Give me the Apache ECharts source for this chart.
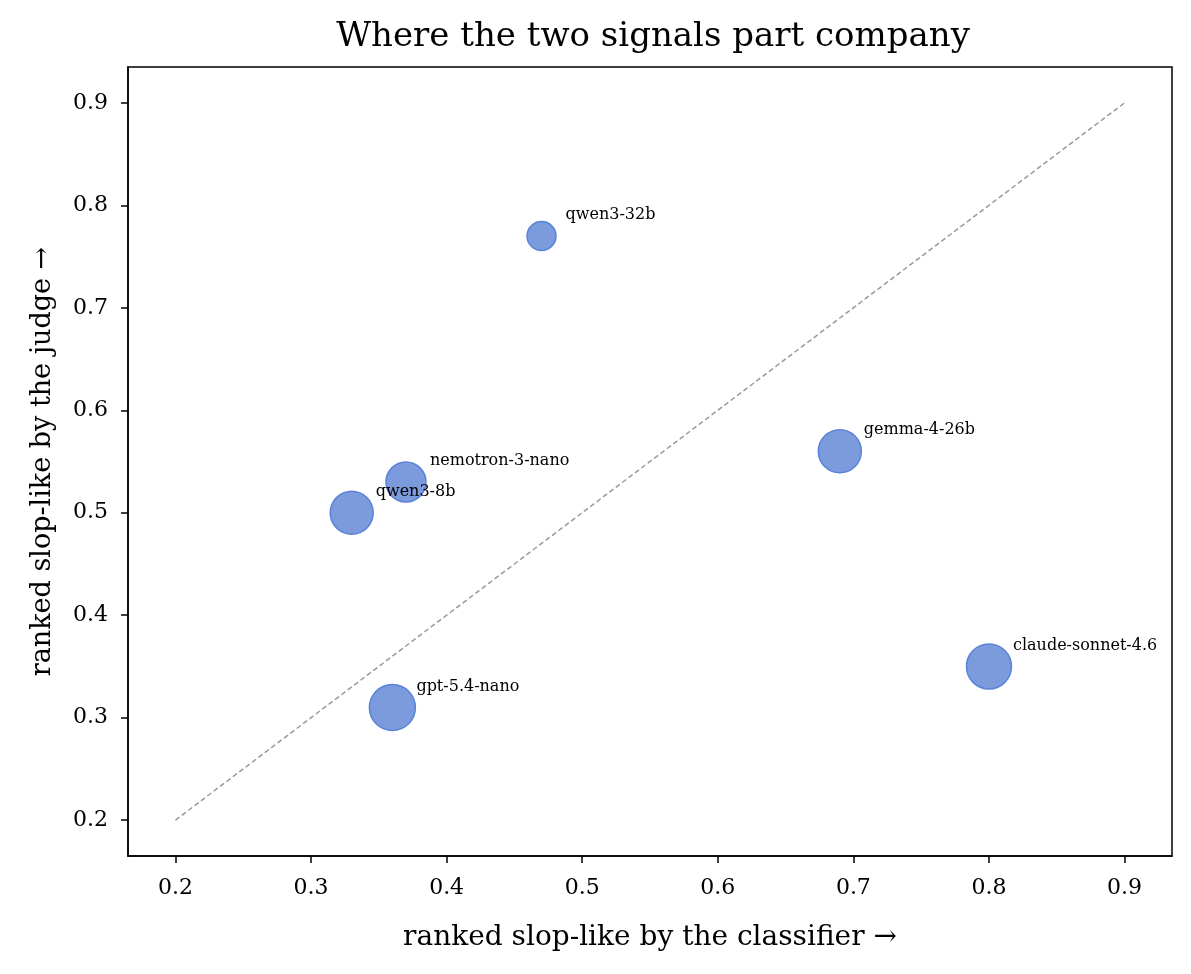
<!DOCTYPE html>
<html>
<head>
<meta charset="utf-8">
<script src="https://cdn.jsdelivr.net/npm/echarts@6/dist/echarts.min.js"></script>
<style>
html,body{margin:0;padding:0;background:#fff;}
#chart{width:1191px;height:974px;}
</style>
</head>
<body>
<div id="chart"></div>
<script>
const models = ['qwen3-32b','nemotron-3-nano','qwen3-8b','gemma-4-26b','claude-sonnet-4.6','gpt-5.4-nano'];
const classifierRank = [0.47, 0.37, 0.33, 0.69, 0.80, 0.36];
const judgeRank = [0.77, 0.53, 0.50, 0.56, 0.35, 0.31];
const markerSize = [29, 40, 43, 43, 45, 46];
const tickValues = [0.2, 0.3, 0.4, 0.5, 0.6, 0.7, 0.8, 0.9];
const diagonal = [[0.2, 0.2], [0.9, 0.9]];

const FONT = 'DejaVu Serif';
const chart = echarts.init(document.getElementById('chart'), null, {renderer: 'canvas'});

const points = models.map((m, i) => ({
  name: m,
  value: [classifierRank[i], judgeRank[i]],
  symbolSize: markerSize[i]
}));

chart.setOption({
  backgroundColor: '#fff',
  animation: false,
  title: {
    text: 'Where the two signals part company',
    left: 648, top: 15, textAlign: 'center',
    textStyle: {fontFamily: FONT, fontSize: 34, fontWeight: 'normal', color: '#000'}
  },
  grid: {
    left: 128, top: 67, right: 19, bottom: 118,
    show: true, borderColor: '#000', borderWidth: 1.5, backgroundColor: 'transparent'
  },
  xAxis: {
    type: 'value', min: 0.165, max: 0.935, interval: 0.1,
    name: 'ranked slop-like by the classifier \u2192',
    nameLocation: 'middle', nameGap: 68,
    nameTextStyle: {fontFamily: FONT, fontSize: 28, color: '#000'},
    axisLine: {show: true, lineStyle: {color: '#000', width: 1.5}},
    axisTick: {show: true, length: 7, lineStyle: {color: '#000', width: 1.5},
      customValues: tickValues},
    axisLabel: {fontFamily: FONT, fontSize: 22, color: '#000', margin: 21,
      customValues: tickValues, formatter: v => v.toFixed(1)},
    splitLine: {show: false}
  },
  yAxis: {
    type: 'value', min: 0.165, max: 0.935, interval: 0.1,
    name: 'ranked slop-like by the judge \u2192',
    nameLocation: 'middle', nameGap: 72,
    nameTextStyle: {fontFamily: FONT, fontSize: 27, color: '#000'},
    axisLine: {show: true, lineStyle: {color: '#000', width: 1.5}},
    axisTick: {show: true, length: 7, lineStyle: {color: '#000', width: 1.5},
      customValues: tickValues},
    axisLabel: {fontFamily: FONT, fontSize: 22, color: '#000', margin: 20,
      customValues: tickValues, formatter: v => v.toFixed(1)},
    splitLine: {show: false}
  },
  series: [
    {
      type: 'line',
      data: diagonal,
      symbol: 'none',
      lineStyle: {color: '#999', width: 1.5, type: [5, 3]},
      silent: true,
      z: 1
    },
    {
      type: 'scatter',
      data: points,
      itemStyle: {color: '#7b9bdd', borderColor: '#5a82d8', borderWidth: 1.5, opacity: 1},
      label: {
        show: true,
        formatter: p => p.name,
        position: 'inside',
        align: 'left',
        verticalAlign: 'middle',
        offset: [24, -21],
        fontFamily: FONT, fontSize: 16, color: '#000',
        textBorderWidth: 0
      },
      z: 3
    }
  ]
});
</script>
</body>
</html>
